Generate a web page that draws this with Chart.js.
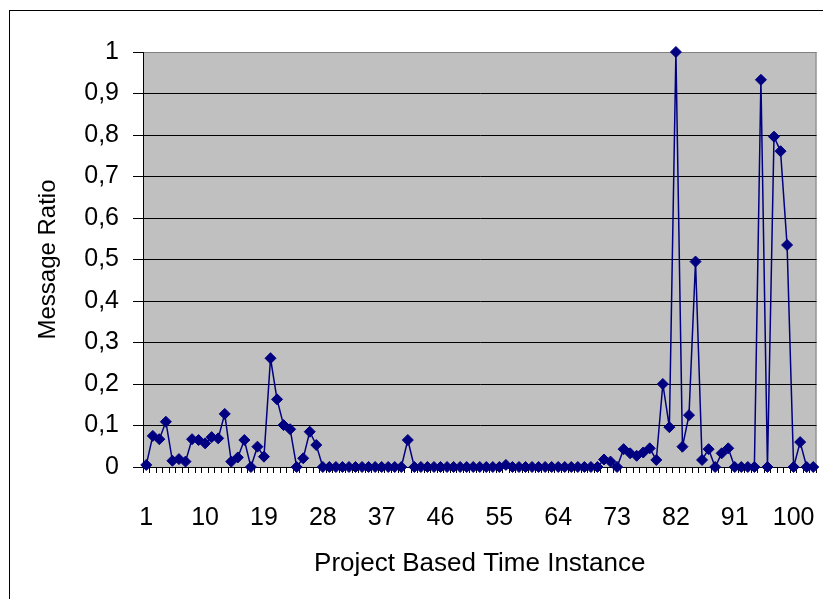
<!DOCTYPE html>
<html>
<head>
<meta charset="utf-8">
<script src="https://cdn.jsdelivr.net/npm/chart.js@4"></script>
<style>
  html, body { margin: 0; padding: 0; background: #fff; }
  #wrap { width: 823px; height: 599px; position: relative; }
</style>
</head>
<body>
<div id="wrap"><canvas id="chart" width="823" height="599"></canvas></div>
<script>
// time instances 1..103
const instances = [];
for (let i = 1; i <= 103; i++) instances.push(String(i));

// message ratio per instance
const ratios = [
  0.005, 0.075, 0.067, 0.109, 0.015, 0.019, 0.013, 0.067, 0.065, 0.057,
  0.072, 0.069, 0.128, 0.013, 0.023, 0.065, 0, 0.049, 0.025, 0.262,
  0.163, 0.101, 0.091, 0, 0.021, 0.085, 0.053, 0, 0, 0,
  0, 0, 0, 0, 0, 0, 0, 0, 0, 0,
  0.065, 0, 0, 0, 0, 0, 0, 0, 0, 0,
  0, 0, 0, 0, 0, 0.005, 0, 0, 0, 0,
  0, 0, 0, 0, 0, 0, 0, 0, 0, 0,
  0.018, 0.013, 0, 0.043, 0.033, 0.027, 0.035, 0.045, 0.017, 0.2,
  0.096, 1.0, 0.049, 0.125, 0.495, 0.017, 0.043, 0, 0.033, 0.045,
  0, 0, 0, 0, 0.933, 0, 0.796, 0.761, 0.535, 0,
  0.06, 0, 0
];

const yTicks = [0, 0.1, 0.2, 0.3, 0.4, 0.5, 0.6, 0.7, 0.8, 0.9, 1];

const navy = '#000080';
const fontFam = '"Liberation Sans", Arial, sans-serif';

const frame = {
  id: 'frame',
  beforeDraw(chart) {
    const { ctx, chartArea } = chart;
    ctx.save();
    ctx.fillStyle = '#fff';
    ctx.fillRect(0, 0, chart.width, chart.height);
    ctx.strokeStyle = '#000';
    ctx.lineWidth = 1;
    ctx.strokeRect(9.5, 10.5, 900, 700);
    ctx.fillStyle = '#c0c0c0';
    ctx.fillRect(chartArea.left, chartArea.top, chartArea.right - chartArea.left, chartArea.bottom - chartArea.top);
    ctx.strokeStyle = '#808080';
    ctx.strokeRect(chartArea.left + 0.5, chartArea.top + 0.5, chartArea.right - chartArea.left - 1, chartArea.bottom - chartArea.top);
    ctx.restore();
  }
};

new Chart(document.getElementById('chart').getContext('2d'), {
  type: 'line',
  data: {
    labels: instances,
    datasets: [{
      data: ratios,
      borderColor: navy,
      backgroundColor: navy,
      borderWidth: 1.5,
      pointStyle: 'rectRot',
      pointRadius: 5.5,
      pointBorderWidth: 1,
      pointBorderColor: navy,
      pointBackgroundColor: navy,
      clip: false,
      tension: 0
    }]
  },
  options: {
    responsive: false,
    animation: false,
    layout: { padding: { top: 52, right: 4, left: 0, bottom: 0 } },
    plugins: { legend: { display: false }, tooltip: { enabled: false } },
    scales: {
      x: {
        offset: true,
        afterFit(scale) {
          scale.height = 132;
          scale.paddingLeft = 0;
          scale.paddingRight = 0;
        },
        grid: { offset: true, drawOnChartArea: false, tickLength: 6, color: '#000', tickColor: '#000' },
        border: { color: '#000', width: 1 },
        ticks: {
          autoSkip: false,
          maxRotation: 0,
          padding: 30,
          color: '#000',
          font: { family: fontFam, size: 25 },
          callback(v, i) { return i % 9 === 0 ? instances[i] : ''; }
        },
        title: {
          display: true,
          text: 'Project Based Time Instance',
          color: '#000',
          font: { family: fontFam, size: 26 },
          padding: { top: 0, bottom: 20 }
        }
      },
      y: {
        min: 0,
        max: 1,
        afterFit(scale) {
          scale.width = 143;
          scale.paddingTop = 0;
          scale.paddingBottom = 0;
        },
        afterBuildTicks(scale) { scale.ticks = yTicks.map(v => ({ value: v })); },
        grid: {
          color: ctx => (ctx.tick && ctx.tick.value === 1 ? '#808080' : '#000'),
          tickColor: '#000',
          tickLength: 10,
          lineWidth: 1
        },
        border: { color: '#000', width: 1 },
        ticks: {
          padding: 14,
          color: '#000',
          font: { family: fontFam, size: 25 },
          callback(v) { return String(Math.round(v * 10) / 10).replace('.', ','); }
        },
        title: {
          display: true,
          text: 'Message Ratio',
          color: '#000',
          font: { family: fontFam, size: 24 },
          padding: { top: 34, bottom: 0 }
        }
      }
    }
  },
  plugins: [frame]
});
</script>
</body>
</html>
